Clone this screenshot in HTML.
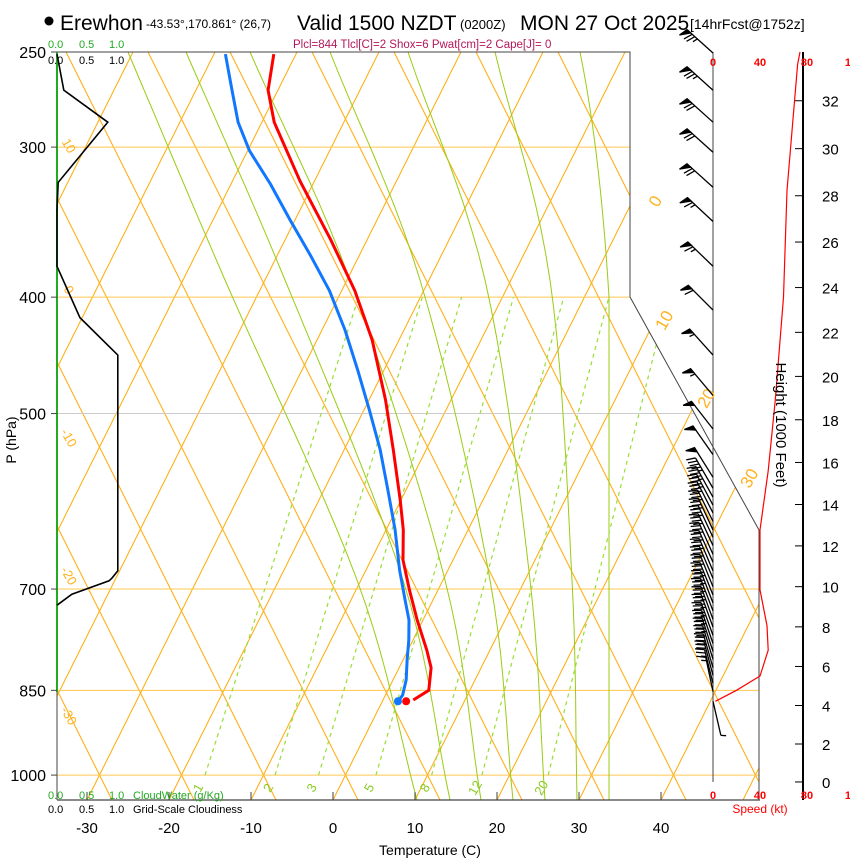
<!DOCTYPE html>
<html><head><meta charset="utf-8"><title>Skew-T Erewhon</title>
<style>
html,body{margin:0;padding:0;background:#fff;}
svg{display:block;font-family:"Liberation Sans",Arial,sans-serif;}
</style></head>
<body>
<svg id="chart" width="850" height="860" viewBox="0 0 850 860" xmlns="http://www.w3.org/2000/svg">
<defs><clipPath id="plotclip"><polygon points="57,52 630,52 630,297 759,530 759,800 57,800"/></clipPath></defs>
<g id="grid" clip-path="url(#plotclip)"></g>
<g id="fg"></g>
<!-- titles -->
<g>
<circle cx="49" cy="21" r="4.5" fill="#000"/>
<text x="60" y="30" font-size="21">Erewhon</text>
<text x="146" y="28" font-size="12">-43.53°,170.861° (26,7)</text>
<text x="297" y="30" font-size="21">Valid 1500 NZDT</text>
<text x="460" y="29" font-size="13">(0200Z)</text>
<text x="520" y="30" font-size="21">MON 27 Oct 2025</text>
<text x="690" y="29" font-size="14">[14hrFcst@1752z]</text>
<text x="293" y="48" font-size="11.5" fill="#b3185a">Plcl=844 Tlcl[C]=2 Shox=6 Pwat[cm]=2 Cape[J]= 0</text>
</g>
<g font-size="11">
<text x="48" y="48" fill="#22aa22">0.0</text>
<text x="79" y="48" fill="#22aa22">0.5</text>
<text x="109" y="48" fill="#22aa22">1.0</text>
<text x="48" y="64" fill="#000">0.0</text>
<text x="79" y="64" fill="#000">0.5</text>
<text x="109" y="64" fill="#000">1.0</text>
<text x="48" y="799" fill="#22aa22">0.0</text>
<text x="79" y="799" fill="#22aa22">0.5</text>
<text x="109" y="799" fill="#22aa22">1.0</text>
<text x="133" y="799" fill="#22aa22">CloudWater (g/Kg)</text>
<text x="48" y="813" fill="#000">0.0</text>
<text x="79" y="813" fill="#000">0.5</text>
<text x="109" y="813" fill="#000">1.0</text>
<text x="133" y="813" fill="#000">Grid-Scale Cloudiness</text>
</g>
<text x="0" y="0" font-size="14" transform="translate(16,440) rotate(-90)" text-anchor="middle">P (hPa)</text>
<text x="430" y="855" font-size="14" text-anchor="middle">Temperature (C)</text>
<text x="0" y="0" font-size="15" transform="translate(776,425) rotate(90)" text-anchor="middle">Height (1000 Feet)</text>
<text x="760" y="813" font-size="12" fill="#ff0000" text-anchor="middle">Speed (kt)</text>
</svg>
<script>
// ---- data ----
const pressureTicks = [250, 300, 400, 500, 700, 850, 1000];
const tempTicks = [-30, -20, -10, 0, 10, 20, 30, 40];
const tempP = [251, 269, 286, 320, 358, 395, 434, 487, 536, 590, 625, 662, 701, 743, 787, 814, 850, 866];
const tempT = [-52.7, -51.2, -48.5, -41.8, -34.5, -28.4, -23.3, -18.0, -14.0, -10.1, -7.9, -6.1, -3.5, -0.7, 2.3, 3.9, 5.0, 3.7];
const dewP = [251, 269, 286, 302, 322, 345, 369, 395, 426, 460, 497, 536, 579, 625, 675, 715, 743, 772, 802, 833, 858, 868];
const dewT = [-58.6, -55.6, -52.9, -49.8, -45.2, -40.6, -36.0, -31.5, -27.2, -23.2, -19.3, -15.6, -12.2, -8.9, -5.9, -3.4, -1.7, -0.5, 0.5, 1.6, 2.1, 1.9];
const sfcP = 868, sfcT = 2.9, sfcTd = 1.9;
const cloudP = [251, 269, 286, 321, 338, 377, 416, 447, 676, 685, 689, 707, 722];
const cloudV = [0, 0.11, 0.82, 0.02, 0, 0, 0.37, 0.98, 0.98, 0.89, 0.84, 0.24, 0];
const speedP = [250, 256, 326, 400, 487, 558, 625, 701, 751, 787, 827, 850, 868];
const speedV = [74, 72, 63, 60, 53, 47, 40, 40, 46, 47, 40, 20, 2];
const barbP = [250.5, 269, 286, 303, 324, 346, 377, 410, 447, 483, 515, 541, 565, 577, 587, 596, 605, 615, 625, 634, 644, 655, 665, 676, 686, 697, 708, 719, 730, 742, 753, 765, 777, 789, 801, 814, 826, 839, 852, 868];
const barbV = [75, 73, 72, 70, 68, 66, 63, 60, 57, 54, 52, 50, 48, 47, 45, 44, 42, 41, 40, 40, 40, 40, 40, 40, 40, 41, 43, 45, 46, 47, 47, 46, 45, 44, 42, 38, 32, 25, 15, 5];
const barbD = [312, 312, 312, 312, 312, 313, 314, 315, 318, 320, 322, 325, 328, 330, 331, 332, 333, 334, 335, 335, 335, 336, 336, 337, 337, 338, 338, 339, 339, 340, 340, 340, 341, 342, 343, 344, 345, 346, 348, 167];
const heightTicks = [0, 2, 4, 6, 8, 10, 12, 14, 16, 18, 20, 22, 24, 26, 28, 30, 32];
const mixRatios = [1, 2, 3, 5, 8, 12, 20];
const speedTicks = [0, 40, 80, 120];

// ---- axes ----
function yP(p){ return 52 + 521.6*Math.log(p/250); }
function xT(T,p){ return 333 + 8.2*T + 0.5*(800 - yP(p)); }
function xCloud(c){ return 57 + 62*c; }
function xSpd(v){ return 713 + 1.175*v; }
function pFromFt(kft){ return 1013.25*Math.pow(1 - 2.25577e-5*kft*304.8, 5.25588); }

const NS = "http://www.w3.org/2000/svg";
const grid = document.getElementById('grid');
const fg = document.getElementById('fg');
function mk(tag, attrs, parent){ const e = document.createElementNS(NS, tag); for (const k in attrs) e.setAttribute(k, attrs[k]); parent.appendChild(e); return e; }
const ORANGE = "#ffb21c", GREEN = "#99cc11";

// isotherms & dry adiabats (straight)
for (let k = -12; k <= 12; k++) {
  const c = 87 + 82*k;
  const l = mk('line', {x1: c, y1: 800, x2: c + 374, y2: 52, stroke: ORANGE, 'stroke-width': 1.1}, grid);
  
  
  const c2 = 112 + 82*k;
  const l2 = mk('line', {x1: c2, y1: 800, x2: c2 - 374, y2: 52, stroke: ORANGE, 'stroke-width': 1.1}, grid);
  
  
}
// isobars
pressureTicks.forEach(p => {
  const y = yP(p);
  const l = mk('line', {x1: 57, y1: y, x2: 800, y2: y, stroke: p === 500 ? '#cccccc' : '#ffc850', 'stroke-width': 1}, grid);
  
  
});
// moist adiabats (fitted shapes)
const moistShapes = [[128,225,357,417],[186,285,403,450],[250,350,445,481],[330,420,490,513],[408,485,530,545],[495,550,572,577]];
const ys = [52, 280, 580, 800];
function crPt(p0,p1,p2,p3,t){ const t2=t*t,t3=t2*t; return 0.5*((2*p1)+(-p0+p2)*t+(2*p0-5*p1+4*p2-p3)*t2+(-p0+3*p1-3*p2+p3)*t3); }
moistShapes.forEach(xs => {
  const P = xs.map((x,i) => [x, ys[i]]);
  const ext = [[2*P[0][0]-P[1][0], 2*P[0][1]-P[1][1]], ...P, [2*P[3][0]-P[2][0], 2*P[3][1]-P[2][1]]];
  let d = '';
  for (let s = 1; s < ext.length - 2; s++) {
    for (let t = 0; t <= 1.0001; t += 0.1) {
      const x = crPt(ext[s-1][0], ext[s][0], ext[s+1][0], ext[s+2][0], t);
      const y = crPt(ext[s-1][1], ext[s][1], ext[s+1][1], ext[s+2][1], t);
      d += (d ? 'L' : 'M') + x.toFixed(1) + ',' + y.toFixed(1);
    }
  }
  const pth = mk('path', {d: d, fill: 'none', stroke: GREEN, 'stroke-width': 1}, grid);
  
  
});
const gv = mk('path', {d: 'M580,52 Q600,150 609,297 L609,800', fill: 'none', stroke: GREEN, 'stroke-width': 1}, grid);


// mixing ratio lines
function tdFromW(w,p){ const e = w*p/(622+w); const a = Math.log(e/6.112); return 243.5*a/(17.67 - a); }
mixRatios.forEach(w => {
  const x1 = xT(tdFromW(w,1000),1000), y1 = yP(1000), x2 = xT(tdFromW(w,400),400), y2 = yP(400);
  const l = mk('line', {x1: x1, y1: y1, x2: x2, y2: y2, stroke: '#99dd33', 'stroke-width': 1.2, 'stroke-dasharray': '4,4'}, grid);
  
  
  const t = mk('text', {x: x1 - 3, y: 790, 'font-size': 13, fill: '#88cc22', 'text-anchor': 'middle', transform: 'rotate(-60 ' + (x1-3) + ' 790)'}, fg);
  t.textContent = w;
  
  
});
// boundary lines
mk('polyline', {points: '57,52 630,52 630,297 759,530 759,800', fill: 'none', stroke: '#444', 'stroke-width': 1}, fg);
mk('line', {x1: 57, y1: 800, x2: 760, y2: 800, stroke: '#444', 'stroke-width': 1.2}, fg);
mk('line', {x1: 57, y1: 52, x2: 57, y2: 800, stroke: '#444', 'stroke-width': 1}, fg);
mk('line', {x1: 57, y1: 52, x2: 57, y2: 692, stroke: '#22aa22', 'stroke-width': 2}, fg);
mk('line', {x1: 713, y1: 52, x2: 713, y2: 782, stroke: '#444', 'stroke-width': 1}, fg);
mk('line', {x1: 803, y1: 52, x2: 803, y2: 800, stroke: '#000', 'stroke-width': 2}, fg);

// pressure ticks/labels
pressureTicks.forEach(p => {
  const y = yP(p);
  const tk = mk('line', {x1: 51, y1: y, x2: 57, y2: y, stroke: '#444'}, fg);
  
  
  const t = mk('text', {x: 46, y: y + 6, 'font-size': 16, 'text-anchor': 'end'}, fg);
  t.textContent = p;
  
  
});
tempTicks.forEach(T => {
  const x = 333 + 8.2*T;
  const tk = mk('line', {x1: x, y1: 792, x2: x, y2: 800, stroke: '#444'}, fg);
  
  
  const t = mk('text', {x: x, y: 833, 'font-size': 15, 'text-anchor': 'middle'}, fg);
  t.textContent = T;
  
  
});
heightTicks.forEach(h => {
  const y = yP(pFromFt(h));
  const tk = mk('line', {x1: 795, y1: y, x2: 803, y2: y, stroke: '#000'}, fg);
  
  
  const t = mk('text', {x: 822, y: y + 6, 'font-size': 15}, fg);
  t.textContent = h;
  
  
});
speedTicks.forEach(v => {
  [66, 799].forEach(yy => {
    const t = mk('text', {x: xSpd(v), y: yy, 'font-size': 11, 'font-weight': 'bold', fill: '#ff0000', 'text-anchor': 'middle'}, fg);
    t.textContent = v;
    
    
  });
});
// isotherm / adiabat labels
const leftLab = [['10',65,148],['0',65,292],['-10',65,440],['-20',65,578],['-30',65,718]];
leftLab.forEach(a => {
  const t = mk('text', {x: a[1], y: a[2], 'font-size': 13, fill: ORANGE, 'text-anchor': 'middle', transform: 'rotate(60 ' + a[1] + ' ' + a[2] + ')'}, fg);
  t.textContent = a[0];
  
  
});
const rightLab = [['0',655,207],['10',664,326],['20',706,404],['30',749,484]];
rightLab.forEach(a => {
  const t = mk('text', {x: a[1], y: a[2], 'font-size': 17, fill: ORANGE, 'text-anchor': 'middle', transform: 'rotate(-60 ' + a[1] + ' ' + (a[2]-6) + ')'}, fg);
  t.textContent = a[0];
  
  
});

// cloud profile
const cl = mk('polyline', {points: cloudP.map((p,i) => xCloud(cloudV[i]).toFixed(1) + ',' + yP(p).toFixed(1)).join(' '), fill: 'none', stroke: '#000', 'stroke-width': 1.6}, fg);


// temperature and dew point
const tl = mk('polyline', {points: tempP.map((p,i) => xT(tempT[i],p).toFixed(1) + ',' + yP(p).toFixed(1)).join(' '), fill: 'none', stroke: '#ff0000', 'stroke-width': 3, 'stroke-linejoin': 'round'}, fg);


const dl = mk('polyline', {points: dewP.map((p,i) => xT(dewT[i],p).toFixed(1) + ',' + yP(p).toFixed(1)).join(' '), fill: 'none', stroke: '#1177ff', 'stroke-width': 3, 'stroke-linejoin': 'round'}, fg);


const sd = mk('circle', {cx: xT(sfcT,sfcP), cy: yP(sfcP), r: 4, fill: '#ff0000'}, fg);


const sdd = mk('circle', {cx: xT(sfcTd,sfcP), cy: yP(sfcP), r: 4, fill: '#1177ff'}, fg);


// speed profile
const sl = mk('polyline', {points: speedP.map((p,i) => xSpd(speedV[i]).toFixed(1) + ',' + yP(p).toFixed(1)).join(' '), fill: 'none', stroke: '#ff0000', 'stroke-width': 1.2}, fg);


// wind barbs
barbP.forEach((p,i) => {
  const bx = 713, by = yP(p), d = barbD[i]*Math.PI/180, L = 35;
  const ux = Math.sin(d), uy = -Math.cos(d);
  const nx = uy, ny = -ux;
  const tx = bx + L*ux, ty = by + L*uy;
  const g = mk('g', {stroke: '#000', 'stroke-width': 1.3, fill: '#000'}, fg);
  
  
  mk('line', {x1: bx, y1: by, x2: tx, y2: ty}, g);
  let s = Math.round(barbV[i]/5)*5, pos = 0;
  while (s >= 50) {
    const ax = tx - pos*ux, ay = ty - pos*uy;
    mk('polygon', {points: ax + ',' + ay + ' ' + (ax + 9*nx + 2*ux) + ',' + (ay + 9*ny + 2*uy) + ' ' + (ax - 5*ux) + ',' + (ay - 5*uy)}, g);
    pos += 7; s -= 50;
  }
  while (s >= 10) {
    const ax = tx - pos*ux, ay = ty - pos*uy;
    mk('line', {x1: ax, y1: ay, x2: ax + 9*nx + 3*ux, y2: ay + 9*ny + 3*uy}, g);
    pos += 3.5; s -= 10;
  }
  if (s >= 5) {
    const ax = tx - pos*ux, ay = ty - pos*uy;
    mk('line', {x1: ax, y1: ay, x2: ax + 5*nx + 1.5*ux, y2: ay + 5*ny + 1.5*uy}, g);
  }
});
</script>
</body></html>
